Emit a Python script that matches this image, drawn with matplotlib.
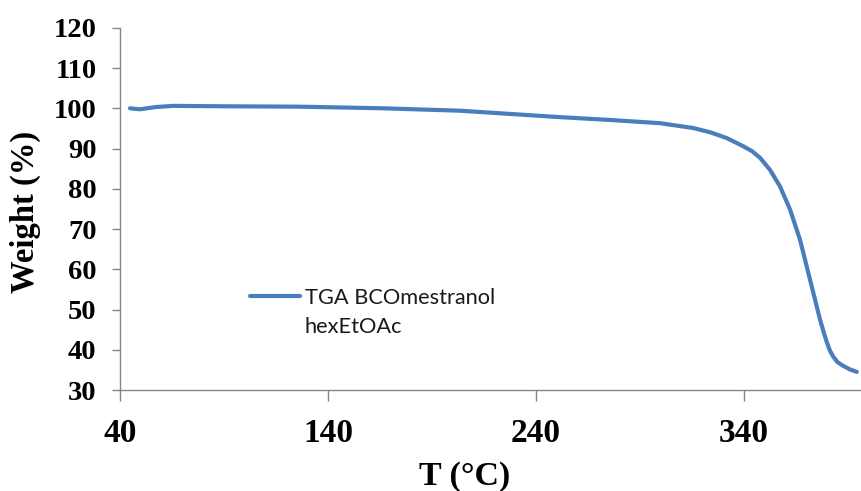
import matplotlib
matplotlib.use("Agg")
import matplotlib.pyplot as plt
from matplotlib.lines import Line2D

# TGA curve
temp_c = [44.8, 49.6, 57.0, 65.5, 90.0, 126.5, 166.4, 203.5, 227.5, 251.5,
          275.6, 299.6, 315.6, 324.0, 331.7, 339.5, 344.0, 347.7, 352.5,
          357.3, 362.1, 366.9, 370.1, 373.3, 376.5, 378.3, 379.8, 381.3,
          382.9, 385.0, 387.7, 391.0, 394.2]
weight_pct = [100.0, 99.75, 100.3, 100.6, 100.5, 100.4, 100.0, 99.4, 98.6, 97.8,
              97.1, 96.3, 95.1, 94.0, 92.6, 90.6, 89.3, 87.7, 84.7,
              80.6, 74.9, 67.4, 60.8, 54.2, 47.6, 44.4, 41.9, 39.8,
              38.3, 36.9, 36.0, 35.1, 34.5]

series_label = "TGA BCOmestranol\nhexEtOAc"
x_ticks = [40, 140, 240, 340]
y_ticks = [30, 40, 50, 60, 70, 80, 90, 100, 110, 120]

line_color = "#4A7EBB"
axis_color = "#868686"
serif = "Liberation Serif"

fig = plt.figure(figsize=(8.62, 4.91), dpi=100)
ax = fig.add_axes([120 / 862, 101 / 491, 742 / 862, 362.2 / 491])

ax.plot(temp_c, weight_pct, color=line_color, lw=3.0, solid_capstyle="round",
        solid_joinstyle="round")

ax.set_xlim(40, 40 + 742 / 2.08)
ax.set_ylim(30, 120)
ax.set_xticks(x_ticks)
ax.set_yticks(y_ticks)

for s in ["top", "right"]:
    ax.spines[s].set_visible(False)
for s in ["left", "bottom"]:
    ax.spines[s].set_color(axis_color)
    ax.spines[s].set_linewidth(1.0)

ax.tick_params(axis="x", direction="out", length=8, width=1.0, color=axis_color, pad=12)
ax.tick_params(axis="y", direction="out", length=6, width=1.0, color=axis_color, pad=11)
for lab in ax.get_xticklabels():
    lab.set_fontfamily(serif)
    lab.set_fontweight("bold")
    lab.set_fontsize(24)
for lab in ax.get_yticklabels():
    lab.set_fontfamily(serif)
    lab.set_fontweight("bold")
    lab.set_fontsize(20.5)

fig.text(465 / 862, 1 - 477 / 491, "T (°C)", family=serif, weight="bold",
         fontsize=24.5, ha="center", va="center")
fig.text(25 / 862, 1 - 212 / 491, "Weight (%)", family=serif, weight="bold",
         fontsize=23.5, ha="center", va="center", rotation=90)

# legend drawn by hand so the key sits on the first text line
fig.add_artist(Line2D([250 / 862, 300 / 862], [1 - 296 / 491, 1 - 296 / 491],
                      color=line_color, lw=3.0, solid_capstyle="round"))
fig.text(305 / 862, 1 - 333 / 491, series_label, family="Lato", fontsize=15.7,
         ha="left", va="baseline", color="#1a1a1a", linespacing=1.55)

fig.savefig("out.png", dpi=100, facecolor="white")
